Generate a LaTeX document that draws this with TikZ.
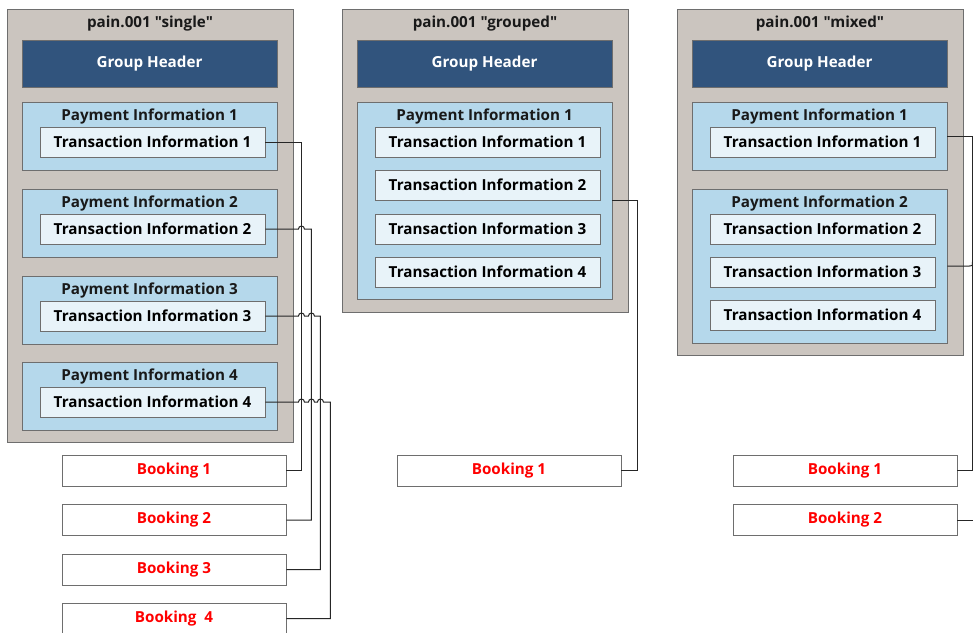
\documentclass[tikz,border=0pt]{standalone}
\usepackage{fontspec}
\setmainfont{Open Sans}[Ligatures=TeXOff]
\usepackage{tikz}
\usetikzlibrary{positioning}

\definecolor{panelgray}{HTML}{CBC5BF}
\definecolor{hdrblue}{HTML}{31547D}
\definecolor{pinfoblue}{HTML}{B5D8EB}
\definecolor{txblue}{HTML}{E8F3F9}
\definecolor{edgegray}{HTML}{6E6E6E}

\newcommand{\labelfont}{\fontsize{15.2}{18}\selectfont\bfseries}

\tikzset{
  box/.style={draw=edgegray, line width=0.9pt, inner sep=0pt},
  panel/.style={box, fill=panelgray, minimum width=286pt},
  ghdr/.style={box, fill=hdrblue, text=white, minimum width=255pt, minimum height=47pt, font=\labelfont},
  pinfo/.style={box, fill=pinfoblue, minimum width=255pt},
  txinfo/.style={box, fill=txblue, minimum width=225pt, minimum height=30pt, font=\labelfont},
  booking/.style={box, fill=white, text=red, minimum width=224pt, minimum height=31pt, font=\labelfont},
  caption/.style={inner sep=0pt, font=\labelfont, text=black!90},
  link/.style={draw=black!85, line width=1pt},
}

\begin{document}
\begin{tikzpicture}[x=1pt, y=-1pt]
 \clip (0,0) rectangle (973,632);
 \fill[white] (0,0) rectangle (973,632);

 % single
 \node[panel, minimum height=433pt] (s) at (150,225.5) {};
 \node[caption] (s-title) at (150,24) {pain.001 "single"};
 \node[ghdr] (s-gh) at (149.5,63.5) {Group Header};
 \foreach \k/\y in {1/136, 2/223, 3/310, 4/396} {
   \node[pinfo, minimum height=68pt] (s-p\k) at (149.5,\y) {};
   \node[caption] at (149.5,\y-19) {Payment Information \k};
   \node[txinfo] (s-t\k) at (152.5,\y+6) {Transaction Information \k};
 }
 \node[booking] (s-b1) at (174,470.5) {Booking 1};
 \node[booking] (s-b2) at (174,520) {Booking 2};
 \node[booking] (s-b3) at (174,569.5) {Booking 3};
 \node[booking] (s-b4) at (174,618.5) {Booking~~4};

 % grouped
 \node[panel, minimum height=303pt] (g) at (485,160.5) {};
 \node[caption] (g-title) at (485,24) {pain.001 "grouped"};
 \node[ghdr] (g-gh) at (484.5,63.5) {Group Header};
 \node[pinfo, minimum height=197pt] (g-p1) at (484.5,200.5) {};
 \node[caption] at (484.5,117) {Payment Information 1};
 \foreach \k/\y in {1/142, 2/185, 3/229, 4/272}
   \node[txinfo] (g-t\k) at (487.5,\y) {Transaction Information \k};
 \node[booking] (g-b1) at (509,470.5) {Booking 1};

 % mixed
 \node[panel, minimum height=346pt] (m) at (820,182) {};
 \node[caption] (m-title) at (820,24) {pain.001 "mixed"};
 \node[ghdr] (m-gh) at (819.5,63.5) {Group Header};
 \node[pinfo, minimum height=68pt] (m-p1) at (819.5,136) {};
 \node[caption] at (819.5,117) {Payment Information 1};
 \node[txinfo] (m-t1) at (822.5,142) {Transaction Information 1};
 \node[pinfo, minimum height=154pt] (m-p2) at (819.5,266) {};
 \node[caption] at (819.5,204) {Payment Information 2};
 \foreach \k/\y in {2/229, 3/272, 4/315}
   \node[txinfo] (m-t\k) at (822.5,\y) {Transaction Information \k};
 \node[booking] (m-b1) at (845,470.5) {Booking 1};
 \node[booking] (m-b2) at (845,520) {Booking 2};

 % links, single (with hops over the crossed lines)
 \draw[link] (s-t1.east) -- ++(36,0) |- (s-b1.east);
 \draw[link] (s-t2.east) -- ++(33,0) arc[start angle=180, end angle=360, radius=3]
   -- ++(7,0) |- (s-b2.east);
 \draw[link] (s-t3.east) -- ++(33,0) arc[start angle=180, end angle=360, radius=3]
   -- ++(4,0) arc[start angle=180, end angle=360, radius=3]
   -- ++(6,0) |- (s-b3.east);
 \draw[link] (s-t4.east) -- ++(33,0) arc[start angle=180, end angle=360, radius=3]
   -- ++(4,0) arc[start angle=180, end angle=360, radius=3]
   -- ++(3,0) arc[start angle=180, end angle=360, radius=3]
   -- ++(7,0) |- (s-b4.east);

 % links, grouped
 \draw[link] (g-p1.east) -- ++(25,0) |- (g-b1.east);

 % links, mixed
 \draw[link] (m-p1.east) -- ++(25,0) |- (m-b1.east);
 \draw[link] (m-p2.east) -- ++(22,0) .. controls ++(3,0) .. ++(3,-4);
 \draw[link] (m-b2.east) -- ++(25,0);
\end{tikzpicture}
\end{document}
